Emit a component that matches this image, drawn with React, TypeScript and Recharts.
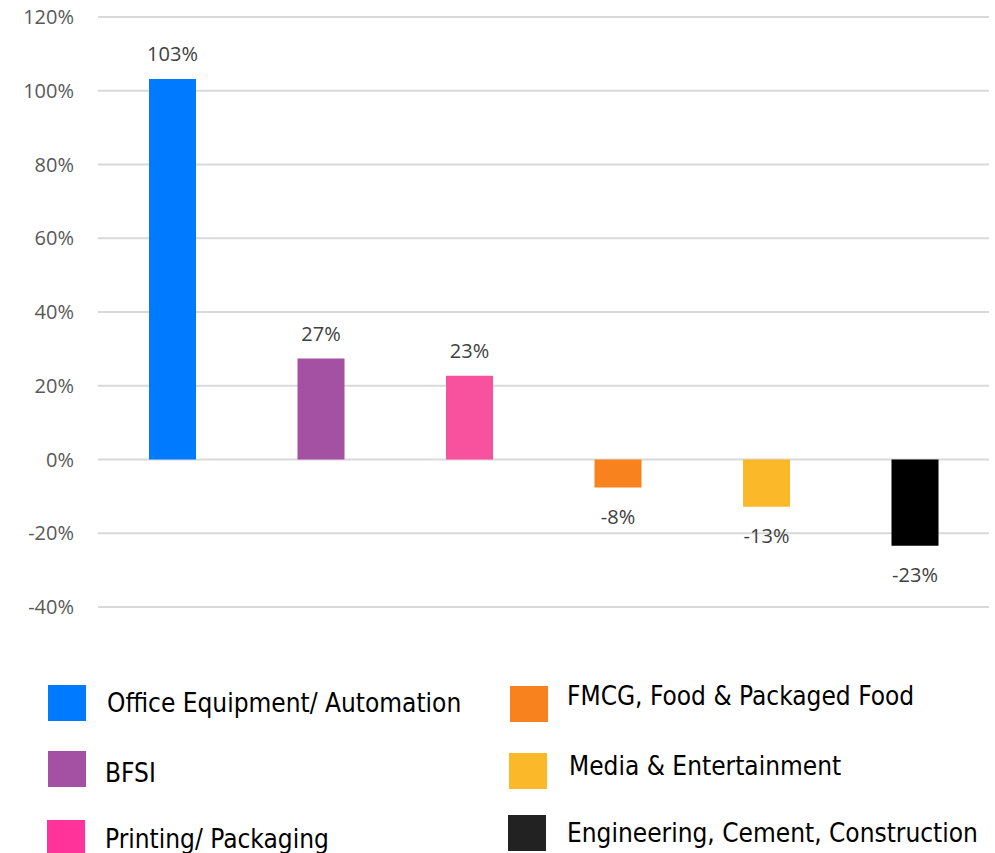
import { BarChart, Bar, Cell, XAxis, YAxis, CartesianGrid, LabelList } from "recharts"

// categories and growth values (%)
const categories = [
  "Office Equipment/ Automation",
  "BFSI",
  "Printing/ Packaging",
  "FMCG, Food & Packaged Food",
  "Media & Entertainment",
  "Engineering, Cement, Construction"
]
const growth = [103.2, 27.4, 22.7, -7.6, -12.8, -23.4]
const barColors = ["#007BFF", "#A450A3", "#F8519D", "#F7821E", "#FBB829", "#000000"]
const legendColors = ["#007BFF", "#A450A3", "#FF3399", "#F7821E", "#FBB829", "#222222"]
const yTicks = [-40, -20, 0, 20, 40, 60, 80, 100, 120]

const data = categories.map((name, i) => ({ name, value: growth[i] }))

// legend placement: left column holds first three, right column the rest
const legendPos = [
  { sx: 48, sy: 685, tx: 107, ty: 712 },
  { sx: 48, sy: 751, tx: 105, ty: 782 },
  { sx: 47, sy: 820, tx: 105, ty: 848 },
  { sx: 510, sy: 686, tx: 567, ty: 705 },
  { sx: 509, sy: 753, tx: 569, ty: 775 },
  { sx: 508, sy: 815, tx: 567, ty: 842 }
]

const renderValueLabel = (props: any) => {
  const { x, y, width, height, value } = props
  const top = Math.min(y, y + height)
  const bottom = Math.max(y, y + height)
  const cy = value >= 0 ? top - 24.5 : bottom + 29
  return (
    <text
      x={x + width / 2}
      y={cy + 7}
      textAnchor="middle"
      fill="#404040"
      fontSize={20}
      fontFamily="'Open Sans', sans-serif"
    >
      {`${Math.round(value)}%`}
    </text>
  )
}

export default function App() {
  return (
    <div style={{ position: "absolute", left: 0, top: 0, width: 995, height: 853, background: "#fff", overflow: "hidden" }}>
      <BarChart
        width={995}
        height={853}
        data={data}
        margin={{ top: 17, right: 6, bottom: 246, left: 0 }}
      >
        <CartesianGrid vertical={false} stroke="#D9D9D9" strokeWidth={2} />
        <XAxis dataKey="name" hide />
        <YAxis
          width={98}
          domain={[-40, 120]}
          ticks={yTicks}
          axisLine={false}
          tickLine={false}
          tickMargin={18}
          tickFormatter={(v: number) => `${v}%`}
          tick={{ fill: "#595959", fontSize: 20, fontFamily: "'Open Sans', sans-serif" }}
        />
        <Bar dataKey="value" barSize={47} isAnimationActive={false}>
          {data.map((entry, index) => (
            <Cell key={`cell-${index}`} fill={barColors[index]} />
          ))}
          <LabelList dataKey="value" content={renderValueLabel} />
        </Bar>
      </BarChart>
      <svg width={995} height={853} style={{ position: "absolute", left: 0, top: 0 }}>
        {categories.map((name, i) => (
          <g key={name}>
            <rect x={legendPos[i].sx} y={legendPos[i].sy} width={38} height={36} fill={legendColors[i]} />
            <text
              x={legendPos[i].tx}
              y={legendPos[i].ty}
              fill="#000"
              fontSize={26}
              fontFamily="'DejaVu Sans Condensed', 'DejaVu Sans', sans-serif"
              style={{ fontStretch: "condensed" }}
            >
              {name}
            </text>
          </g>
        ))}
      </svg>
    </div>
  )
}
